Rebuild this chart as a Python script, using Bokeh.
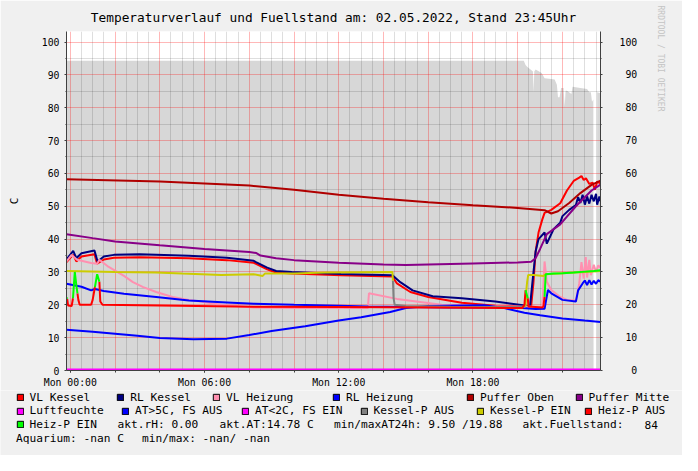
import math
from bokeh.plotting import figure
from bokeh.layouts import column
from bokeh.models import (Range1d, LinearAxis, FixedTicker, Grid, Legend, LegendItem,
                          Label, Title)
from bokeh.embed import file_html
from bokeh.resources import INLINE

NAN = float("nan")
NB = "\u00a0"
FONT = "DejaVu Sans Mono"

# ---- data: (hour since Mon 00:00, value) ----
vl_kessel = [(-0.17, 33.0), (0.13, 35.3), (0.27, 33.2), (0.5, 34.7), (1.08, 35.4), (1.2, 32.5),
             (1.5, 33.8), (1.95, 34.3), (3.1, 34.5), (5.3, 34.2), (7.0, 33.6), (8.2, 32.8),
             (8.3, 32.5), (8.8, 30.8), (9.2, 29.8), (9.9, 29.5), (12.1, 29.0), (14.4, 28.6),
             (14.6, 26.5), (15.2, 23.9), (16.0, 22.4), (17.5, 20.6), (19.0, 19.7), (20.4, 19.5),
             (20.6, 19.6), (20.7, 26.5), (20.8, 36.2), (20.93, 42.0), (21.1, 46.0), (21.2, 48.0),
             (21.5, 48.9), (21.9, 50.9), (22.2, 54.8), (22.5, 57.7), (22.75, 58.7), (22.85, 59.2),
             (22.95, 58.0), (23.05, 58.5), (23.2, 56.8), (23.35, 57.2), (23.45, 55.0), (23.55, 57.5),
             (23.7, 57.0)]
rl_kessel = [(-0.17, 33.8), (0.13, 36.4), (0.27, 34.2), (0.5, 35.7), (1.08, 36.5), (1.22, 33.2),
             (1.5, 34.7), (1.95, 35.2), (3.1, 35.4), (5.3, 34.9), (7.0, 34.3), (8.2, 33.4),
             (8.3, 33.0), (8.8, 31.3), (9.2, 30.3), (9.9, 30.0), (12.1, 29.4), (14.4, 29.0),
             (14.75, 26.9), (15.3, 24.4), (16.2, 22.6), (17.5, 22.0), (19.0, 21.0), (20.4, 19.7),
             (20.55, 19.6), (20.65, 26.4), (20.8, 36.2), (20.93, 40.0), (21.2, 42.0), (21.3, 38.6),
             (21.6, 43.0), (21.9, 45.0), (22.0, 47.0), (22.3, 48.9), (22.6, 50.4), (22.7, 52.8),
             (22.8, 51.0), (22.9, 53.5), (23.0, 50.5), (23.1, 53.0), (23.2, 50.8), (23.3, 53.5),
             (23.4, 51.5), (23.5, 53.8), (23.55, 50.5), (23.65, 53.0), (23.7, 51.5)]
vl_heizung = [(-0.17, 33.2), (0.06, 35.2), (0.3, 33.7), (0.93, 32.7), (1.2, 32.5), (1.3, 33.7),
              (1.66, 31.8), (2.4, 28.8), (2.8, 26.9), (3.26, 25.4), (3.84, 23.9), (4.57, 22.4),
              (5.3, 21.5), (6.75, 20.0), (8.2, 19.2), (10.0, 19.0), (13.3, 19.0), (13.35, 23.5),
              (14.6, 21.8), (16.6, 20.0), (18.0, 19.6), (21.1, 19.4), (21.2, 33.2), (21.3, 27.0),
              (21.5, 24.5), (21.9, 22.4), (22.2, 21.5), (22.6, 21.3), (22.75, 26.5), (22.85, 33.0),
              (22.95, 28.0), (23.04, 34.5), (23.1, 28.3), (23.2, 33.7), (23.27, 29.0), (23.4, 32.2),
              (23.5, 30.0), (23.6, 32.0), (23.7, 31.3)]
rl_heizung = [(-0.17, 26.4), (0.5, 25.5), (0.93, 24.4), (1.1, 24.8), (1.5, 24.2), (2.4, 23.4),
              (3.84, 22.4), (5.3, 21.3), (7.0, 20.7), (8.2, 20.3), (10.0, 20.0), (12.0, 19.7),
              (13.3, 19.5), (15.0, 19.3), (17.0, 19.2), (19.0, 19.2), (20.2, 19.0), (20.8, 18.7),
              (21.2, 18.8), (21.35, 24.5), (21.5, 23.5), (22.0, 21.5), (22.6, 21.0), (22.7, 24.4),
              (22.9, 26.5), (23.0, 27.4), (23.1, 26.0), (23.2, 27.5), (23.3, 26.2), (23.4, 27.3),
              (23.5, 26.4), (23.6, 27.5), (23.7, 27.0)]
puffer_oben = [(-0.17, 58.2), (4.0, 57.5), (8.0, 56.3), (10.0, 55.0), (12.0, 53.5), (14.0, 52.3),
               (16.0, 51.2), (18.0, 50.3), (20.0, 49.5), (21.2, 48.8), (21.5, 47.8), (21.8, 48.5),
               (22.3, 51.0), (22.8, 54.0), (23.3, 56.5), (23.7, 57.8)]
puffer_mitte = [(-0.17, 41.5), (1.0, 40.3), (2.0, 39.3), (4.0, 38.1), (6.0, 37.0), (8.0, 36.1),
                (8.3, 35.8), (8.5, 35.0), (9.2, 34.2), (10.0, 33.6), (12.0, 32.8), (14.0, 32.3),
                (15.0, 32.1), (16.0, 32.3), (18.0, 32.6), (20.0, 32.9), (20.6, 33.1), (20.8, 34.2),
                (21.0, 37.0), (21.3, 41.5), (21.9, 44.5), (22.6, 50.0), (23.3, 54.8), (23.7, 56.6)]
luftfeuchte = [(-0.17, 0.0), (23.7, 0.0)]
aussentemp = [(-0.17, 12.4), (1.0, 11.8), (2.0, 11.2), (3.0, 10.6), (4.0, 9.9), (5.5, 9.5),
              (7.0, 9.7), (8.0, 10.8), (9.0, 12.0), (10.5, 13.5), (12.0, 15.2), (13.0, 16.2),
              (14.3, 17.8), (15.0, 19.0), (16.0, 19.6), (17.5, 19.8), (18.5, 19.9), (19.4, 19.0),
              (20.3, 17.6), (21.0, 16.8), (22.0, 15.8), (23.0, 15.2), (23.7, 14.8)]
kessel_p_aus = [(14.42, 27.4), (14.45, 22.0), (14.5, 20.0), (15.0, 19.6), (17.0, 19.4),
                (20.3, 19.3), (20.35, 19.5)]
kessel_p_ein = [(-0.17, 30.3), (2.0, 30.0), (3.8, 29.8), (5.0, 29.5), (6.75, 29.1), (8.2, 29.3),
                (8.6, 28.8), (8.7, 29.5), (10.0, 29.5), (11.4, 29.8), (14.4, 30.0), (14.42, 27.4),
                (14.43, NAN),
                (20.35, 19.5), (20.38, 24.0), (20.42, 27.0), (20.47, 29.1), (20.7, 29.1),
                (21.15, 28.8), (21.25, 29.3), (22.0, 29.6), (23.0, 30.0), (23.7, 30.3)]
heiz_p_aus = [(-0.14, 21.8), (-0.1, 19.8), (0.06, 19.6), (0.12, 22.0), (0.13, NAN),
              (0.32, 23.5), (0.36, 21.5), (0.42, 20.0), (0.93, 20.0), (1.0, 21.5), (1.1, 25.4),
              (1.11, NAN),
              (1.3, 27.0), (1.34, 21.0), (1.44, 20.0), (4.0, 19.8), (8.2, 19.4), (12.0, 19.3),
              (16.0, 19.2), (20.2, 19.0), (20.3, 20.0), (20.35, 24.4), (20.36, NAN),
              (20.45, 22.0), (20.48, 19.5), (21.1, 19.2), (21.15, 19.5), (21.2, 22.4)]
heiz_p_ein = [(-0.17, 22.2), (-0.14, 21.8), (-0.13, NAN),
              (0.12, 22.0), (0.16, 26.0), (0.2, 30.0), (0.26, 26.5), (0.32, 23.5), (0.33, NAN),
              (1.1, 25.4), (1.2, 29.3), (1.3, 27.0), (1.31, NAN),
              (20.35, 24.4), (20.45, 22.0), (20.46, NAN),
              (21.2, 22.4), (21.25, 29.3), (21.6, 29.5), (22.0, 29.6), (22.5, 29.8),
              (23.0, 30.1), (23.4, 30.3), (23.7, 30.5)]
fuellstand = [(-0.17, 94.3), (20.27, 94.3), (20.35, 93.0), (20.42, 92.5), (20.6, 91.5),
              (20.68, 91.0), (20.71, 84.7), (20.74, 91.0), (20.8, 91.6), (21.07, 90.6),
              (21.2, 89.0), (21.4, 88.8), (21.65, 88.6), (21.75, 87.0), (21.8, 83.2),
              (21.87, 83.2), (21.94, 86.0), (22.05, 86.0), (22.1, 80.3), (22.14, 85.2),
              (22.2, 85.2), (22.4, 84.2), (22.45, 86.4), (22.8, 86.0), (23.1, 85.7),
              (23.2, 84.7), (23.27, 84.7), (23.32, 81.8), (23.38, 82.5), (23.39, 0.0),
              (23.54, 0.0), (23.55, 84.7), (23.7, 84.4)]

# name, data, colour, line width
series = [
    ("VL Kessel", vl_kessel, "#FF0000", 2),
    ("RL Kessel", rl_kessel, "#000080", 2),
    ("VL Heizung", vl_heizung, "#FF90B0", 2),
    ("RL Heizung", rl_heizung, "#0000FF", 2),
    ("Puffer Oben", puffer_oben, "#B00000", 2),
    ("Puffer Mitte", puffer_mitte, "#880088", 2),
    ("Luftfeuchte", luftfeuchte, "#FF00FF", 4),
    ("AT>5C, FS AUS", aussentemp, "#0000FF", 2),
    ("AT<2C, FS EIN", [], "#FF00FF", 2),
    ("Kessel-P AUS", kessel_p_aus, "#808080", 2),
    ("Kessel-P EIN", kessel_p_ein, "#CCCC00", 2),
    ("Heiz-P AUS", heiz_p_aus, "#FF0000", 2),
    ("Heiz-P EIN", heiz_p_ein, "#00FF00", 2),
]

x_tick_labels = {0: "Mon 00:00", 6: "Mon 06:00", 12: "Mon 12:00", 18: "Mon 18:00"}
y_ticks = list(range(0, 101, 10))
title_text = "Temperaturverlauf und Fuellstand am: 02.05.2022, Stand 23:45Uhr"
info_row3 = [("akt.rH: 0.00", 117), ("akt.AT:14.78 C", 219), ("min/maxAT24h: 9.50 /19.88", 333.5),
             ("akt.Fuellstand:", 522), ("84", 644)]
info_row4 = [("Aquarium: -nan C", 15.6), ("min/max: -nan/ -nan", 141.5)]

# legend layout (x of swatch in canvas px, row)
legend_pos = [(15.6, 0), (116.3, 0), (212, 0), (332, 0), (466, 0), (574.5, 0),
              (15.6, 1), (121, 1), (241, 1), (359.5, 1), (476, 1), (584, 1),
              (15.6, 2)]
ROW_Y = [397, 410.6, 424, 437.6]   # row centres, canvas px from top

W, H_MAIN, H_LEG = 682, 390, 65
X0, X1 = -0.17, 23.70
Y0, Y1 = 0, 103.2

def unzip(pairs):
    return [a for a, _ in pairs], [b for _, b in pairs]

p = figure(width=W, height=H_MAIN, x_range=Range1d(X0, X1), y_range=Range1d(Y0, Y1),
           x_axis_type=None, y_axis_type=None, output_backend="svg", toolbar_location=None,
           min_border_left=66, min_border_right=79, min_border_top=31, min_border_bottom=20,
           background_fill_color="#FFFFFF", border_fill_color="#F0F0F0",
           outline_line_color=None)

p.title.text = title_text
p.title.align = "center"
p.title.text_font = FONT
p.title.text_font_size = "12.8px"
p.title.text_font_style = "normal"
p.title.text_color = "#000000"
p.title.standoff = 14
p.title.offset = 6.5

# fill level area
ft, fv = unzip(fuellstand)
p.varea(x=ft, y1=0, y2=fv, fill_color="#D7D7D7", level="image")

# grids
half_hours = [i * 0.5 for i in range(0, 48) if i % 4 != 0]
two_hours = list(range(0, 24, 2))
grids = [
    (0, half_hours, "#000000", 0.13),
    (1, list(range(5, 101, 10)), "#000000", 0.13),
    (0, two_hours, "#FF0000", 0.28),
    (1, y_ticks[1:], "#FF0000", 0.28),
]
for dim, ticks, col, alpha in grids:
    p.add_layout(Grid(dimension=dim, ticker=FixedTicker(ticks=ticks),
                      grid_line_color=col, grid_line_alpha=alpha))

# lines
for name, data, col, lw in series:
    if data:
        xs, ys = unzip(data)
        p.line(xs, ys, line_color=col, line_width=lw)

# axes
AX = "#404040"
xax = LinearAxis(ticker=FixedTicker(ticks=sorted(x_tick_labels), minor_ticks=two_hours),
                 major_label_overrides=x_tick_labels,
                 axis_line_color=AX, major_tick_line_color=AX, minor_tick_line_color=AX,
                 major_tick_in=0, major_tick_out=2, minor_tick_in=0, minor_tick_out=2,
                 major_label_standoff=4, major_label_text_font=FONT,
                 major_label_text_font_size="9.8px", major_label_text_color="#000000")
p.add_layout(xax, "below")

ly = LinearAxis(ticker=FixedTicker(ticks=y_ticks, minor_ticks=list(range(5, 101, 10))),
                axis_label="C", axis_label_text_font=FONT, axis_label_text_font_size="11px",
                axis_label_text_font_style="normal", axis_label_text_color="#000000",
                axis_label_standoff=18,
                axis_line_color=AX, major_tick_line_color=AX, minor_tick_line_color=AX,
                major_tick_in=0, major_tick_out=2, minor_tick_in=0, minor_tick_out=1,
                major_label_standoff=5, major_label_text_font=FONT,
                major_label_text_font_size="9.8px", major_label_text_color="#000000")
p.add_layout(ly, "left")

right_labels = {t: (NB * (3 - len(str(t)))) + str(t) for t in y_ticks}
ry = LinearAxis(ticker=FixedTicker(ticks=y_ticks, minor_ticks=list(range(5, 101, 10))),
                major_label_overrides=right_labels,
                axis_line_color=AX, major_tick_line_color=AX, minor_tick_line_color=AX,
                major_tick_in=0, major_tick_out=2, minor_tick_in=0, minor_tick_out=1,
                major_label_standoff=17, major_label_text_font=FONT,
                major_label_text_font_size="9.8px", major_label_text_color="#000000")
p.add_layout(ry, "right")

p.add_layout(Title(text="RRDTOOL / TOBI OETIKER", align="left", offset=-26, standoff=31,
                   text_font=FONT, text_font_size="8px", text_font_style="normal",
                   text_color="#C4C4C4"), "right")

# ---- legend strip ----
lf = figure(width=W, height=H_LEG, x_range=Range1d(0, W), y_range=Range1d(0, H_LEG),
            x_axis_type=None, y_axis_type=None, output_backend="svg", toolbar_location=None,
            min_border=0, background_fill_color="#F0F0F0", border_fill_color="#F0F0F0",
            outline_line_color=None)

OFF = 0
try:
    p.frame_align = False
    lf.frame_align = False
except Exception:
    OFF = 66

ROW_H = 13
def row_bottom(row):
    return (H_MAIN + H_LEG) - (ROW_Y[row] + ROW_H / 2)

for (name, _, col, _lw), (lx, row) in zip(series, legend_pos):
    sq = lf.quad(left=[NAN], right=[NAN], top=[NAN], bottom=[NAN], fill_color=col,
                 line_color="#000000", line_width=1)
    lg = Legend(items=[LegendItem(label=name, renderers=[sq])],
                location=(lx - OFF, row_bottom(row)),
                orientation="horizontal", padding=0, margin=0, spacing=0,
                glyph_width=8, glyph_height=8, label_standoff=6, label_height=ROW_H,
                label_text_font=FONT, label_text_font_size="11.2px",
                label_text_color="#000000",
                border_line_alpha=0, background_fill_alpha=0)
    lf.add_layout(lg)

for rows, ri in ((info_row3, 2), (info_row4, 3)):
    for txt, lx in rows:
        lf.add_layout(Label(x=lx - OFF, y=(H_MAIN + H_LEG) - ROW_Y[ri], x_units="screen",
                            y_units="screen", text=txt, text_font=FONT,
                            text_font_size="11.2px", text_baseline="middle",
                            text_align="left", text_color="#000000"))

open("out.html", "w").write(file_html(column(p, lf, spacing=0), INLINE))
